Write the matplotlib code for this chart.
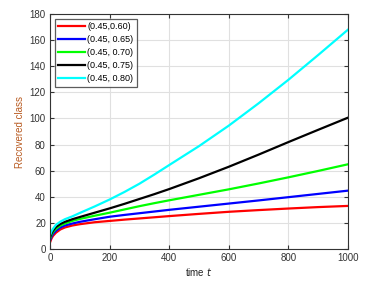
import matplotlib
matplotlib.use("Agg")
import matplotlib.pyplot as plt

t = [0, 5, 10, 20, 35, 50, 75, 100, 150, 200, 250, 300, 350, 400, 500, 600, 700, 800, 900, 1000]
red = [5, 8, 10, 12.5, 15, 16.5, 18, 19, 20.5, 21.5, 22.5, 23.4, 24.3, 25.2, 26.9, 28.5, 29.8, 31.0, 32.1, 33]
blue = [6.5, 9.5, 11.5, 14, 16.5, 18, 19.5, 20.8, 22.8, 24.7, 26.1, 27.4, 28.7, 30.0, 32.4, 34.8, 37.2, 39.7, 42.2, 44.7]
green = [8, 11, 13, 15.5, 18, 19.5, 21.5, 23, 25.5, 27.8, 30.3, 32.8, 35.1, 37.3, 41.5, 45.7, 50.2, 54.9, 59.8, 64.9]
black = [9, 12, 14, 16.8, 19.2, 20.8, 22.8, 24.5, 27.8, 31.1, 34.6, 38.3, 42.0, 45.9, 54.2, 63.0, 72.3, 81.9, 91.3, 100.6]
cyan = [10.5, 13.5, 15.5, 18.5, 21, 22.8, 25, 27.6, 32.6, 37.9, 43.7, 50.0, 57.0, 64.3, 78.8, 94.5, 111.6, 129.6, 148.6, 168]

labels = ["(0.45,0.60)", "(0.45, 0.65)", "(0.45, 0.70)", "(0.45, 0.75)", "(0.45, 0.80)"]
colors = ["#ff0000", "#0000ff", "#00ff00", "#000000", "#00ffff"]
series = [red, blue, green, black, cyan]

xticks = [0, 200, 400, 600, 800, 1000]
yticks = [0, 20, 40, 60, 80, 100, 120, 140, 160, 180]

plt.rcParams['font.family'] = ['Liberation Sans', 'DejaVu Sans']
fig = plt.figure(figsize=(3.85, 2.82), dpi=100)
ax = fig.add_axes([50/385, 33/282, 298/385, 235/282])

for y, c, l in zip(series, colors, labels):
    ax.plot(t, y, color=c, lw=1.6, label=l)

ax.set_xlim(0, 1000)
ax.set_ylim(0, 180)
ax.set_xticks(xticks)
ax.set_yticks(yticks)
ax.grid(True, color="#e0e0e0", lw=0.8)
ax.set_axisbelow(True)
ax.tick_params(direction="in", length=3, labelsize=7, colors="#333333", top=True, right=True, pad=3)
for s in ax.spines.values():
    s.set_color("#333333")
    s.set_linewidth(0.8)
ax.set_xlabel("time $t$", fontsize=7, color="#222222", labelpad=2)
ax.set_ylabel("Recovered class", fontsize=7, color="#b85a20", labelpad=3)

leg = ax.legend(loc="upper left", fontsize=6.5, frameon=True, fancybox=False,
                edgecolor="#333333", borderpad=0.35, labelspacing=0.45,
                handlelength=3.0, handletextpad=0.25, borderaxespad=0.55)
leg.get_frame().set_linewidth(0.9)
for h in leg.get_lines():
    h.set_linewidth(1.6)

fig.savefig("out.png", dpi=100)
